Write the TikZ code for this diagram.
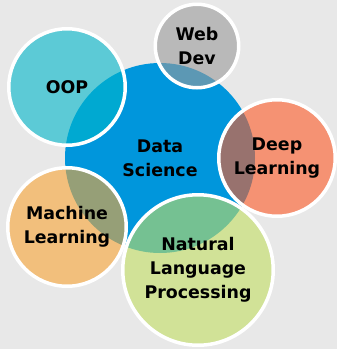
\documentclass[tikz,border=0pt]{standalone}
\usepackage{fontspec}
\setmainfont{DejaVu Sans}

\definecolor{hintergrund}{RGB}{232,232,232}
\definecolor{dsblau}{RGB}{0,150,220}
\definecolor{oopcyan}{RGB}{0,183,203}
\definecolor{webgrau}{RGB}{154,154,154}
\definecolor{dlorange}{RGB}{254,90,37}
\definecolor{mlgelb}{RGB}{250,165,52}
\definecolor{nlpgruen}{RGB}{195,222,97}

\tikzset{
  blase/.style={circle, draw=white, line width=3.5pt, fill opacity=0.6,
    text opacity=1, inner sep=0pt, align=center,
    font=\fontsize{17.4}{24}\selectfont\bfseries},
}

\begin{document}
\begin{tikzpicture}[x=1pt, y=-1pt]

  % Hintergrund
  \path[use as bounding box, fill=hintergrund] (0,0) rectangle (337,349);

  % Mitte
  \node[circle, fill=dsblau, minimum size=190pt, inner sep=0pt, align=center,
    font=\fontsize{17.4}{24}\selectfont\bfseries] (ds) at (160,158) {Data\\Science};

  % Themen rundherum
  \node[blase, fill=oopcyan, minimum size=116.5pt] (oop) at (67,87) {OOP};
  \node[blase, fill=webgrau, minimum size=83.5pt] (web) at (197,46) {Web\\Dev};
  \node[blase, fill=dlorange, minimum size=116.5pt] (dl) at (277,158) {Deep\\Learning};
  \node[blase, fill=mlgelb, minimum size=118.5pt] (ml) at (67,227) {Machine\\Learning};
  \node[blase, fill=nlpgruen, minimum size=150.5pt] (nlp) at (198,270) {Natural\\Language\\Processing};

\end{tikzpicture}
\end{document}
